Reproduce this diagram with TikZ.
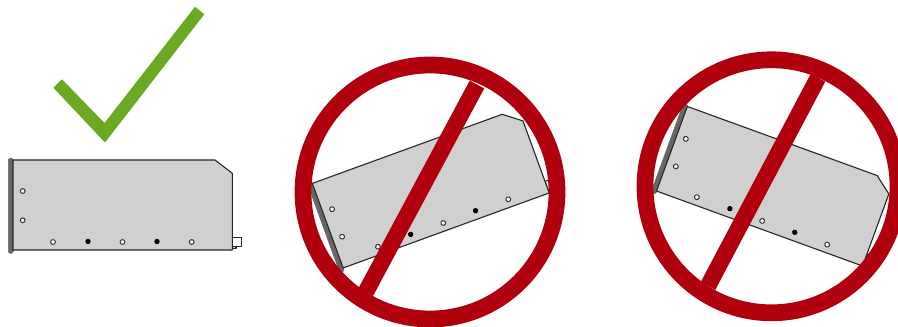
\documentclass[tikz,border=0pt]{standalone}
\definecolor{ringred}{HTML}{B0000E}
\definecolor{tickgreen}{HTML}{6AAA22}
\definecolor{bodygray}{HTML}{D0D0D0}
\definecolor{plategray}{HTML}{666666}

\begin{document}
\begin{tikzpicture}[x=0.02cm,y=-0.02cm,
body/.style={draw=black!85,line width=0.022cm,fill=bodygray,line join=round},
plate/.style={draw=plategray,line width=0.01cm,fill=plategray,rounded corners=0.03cm},
hole/.style={draw=black!80,line width=0.02cm,fill=white},
pin/.style={fill=black},
ring/.style={draw=ringred,line width=0.335cm},
slash/.style={draw=ringred,line width=0.33cm},
drive/.pic={
\draw[body] (236,248.5) -- (232,248.5) -- (232,243) -- (236,243) -- cycle;
\draw[body,fill=white] (232.3,237.7) rectangle (241.7,246.7);
\draw[plate] (8.3,158.3) rectangle (13.3,253.3);
\draw[body] (13,160) -- (215,160) -- (232.3,173.3) -- (232.3,250) -- (13,250) -- cycle;
\draw[hole] (22.7,191) circle (2.4);
\draw[hole] (22.7,220.3) circle (2.4);
\draw[hole] (53,242) circle (2.4);
\fill[pin] (88,241.5) circle (2.7);
\draw[hole] (122.5,242) circle (2.4);
\fill[pin] (157,241.5) circle (2.7);
\draw[hole] (191.7,242) circle (2.4);
}]
\useasboundingbox (0,0) rectangle (898,327);

% correct position
\fill[tickgreen] (195,6.7) -- (204.3,14.3) -- (105,142.5) -- (53.3,87.7) -- (62,79.3) -- (104.5,123) -- cycle;
\pic[transform shape] at (0,0) {drive};

% tilted up
\begin{scope}[shift={(340.3,269)},rotate=20,shift={(-10,-250)}]
\pic[transform shape] at (0,0) {drive};
\end{scope}
\draw[ring] (430,192) circle (127);
\draw[slash] (477,84.5) -- (365.8,292);

% tilted down
\begin{scope}[shift={(653.7,190)},rotate=-20,shift={(-10,-250)}]
\pic[transform shape] at (0,0) {drive};
\end{scope}
\draw[ring] (771.5,186.3) circle (126.5);
\draw[slash] (818,77.7) -- (708,286);
\end{tikzpicture}
\end{document}
